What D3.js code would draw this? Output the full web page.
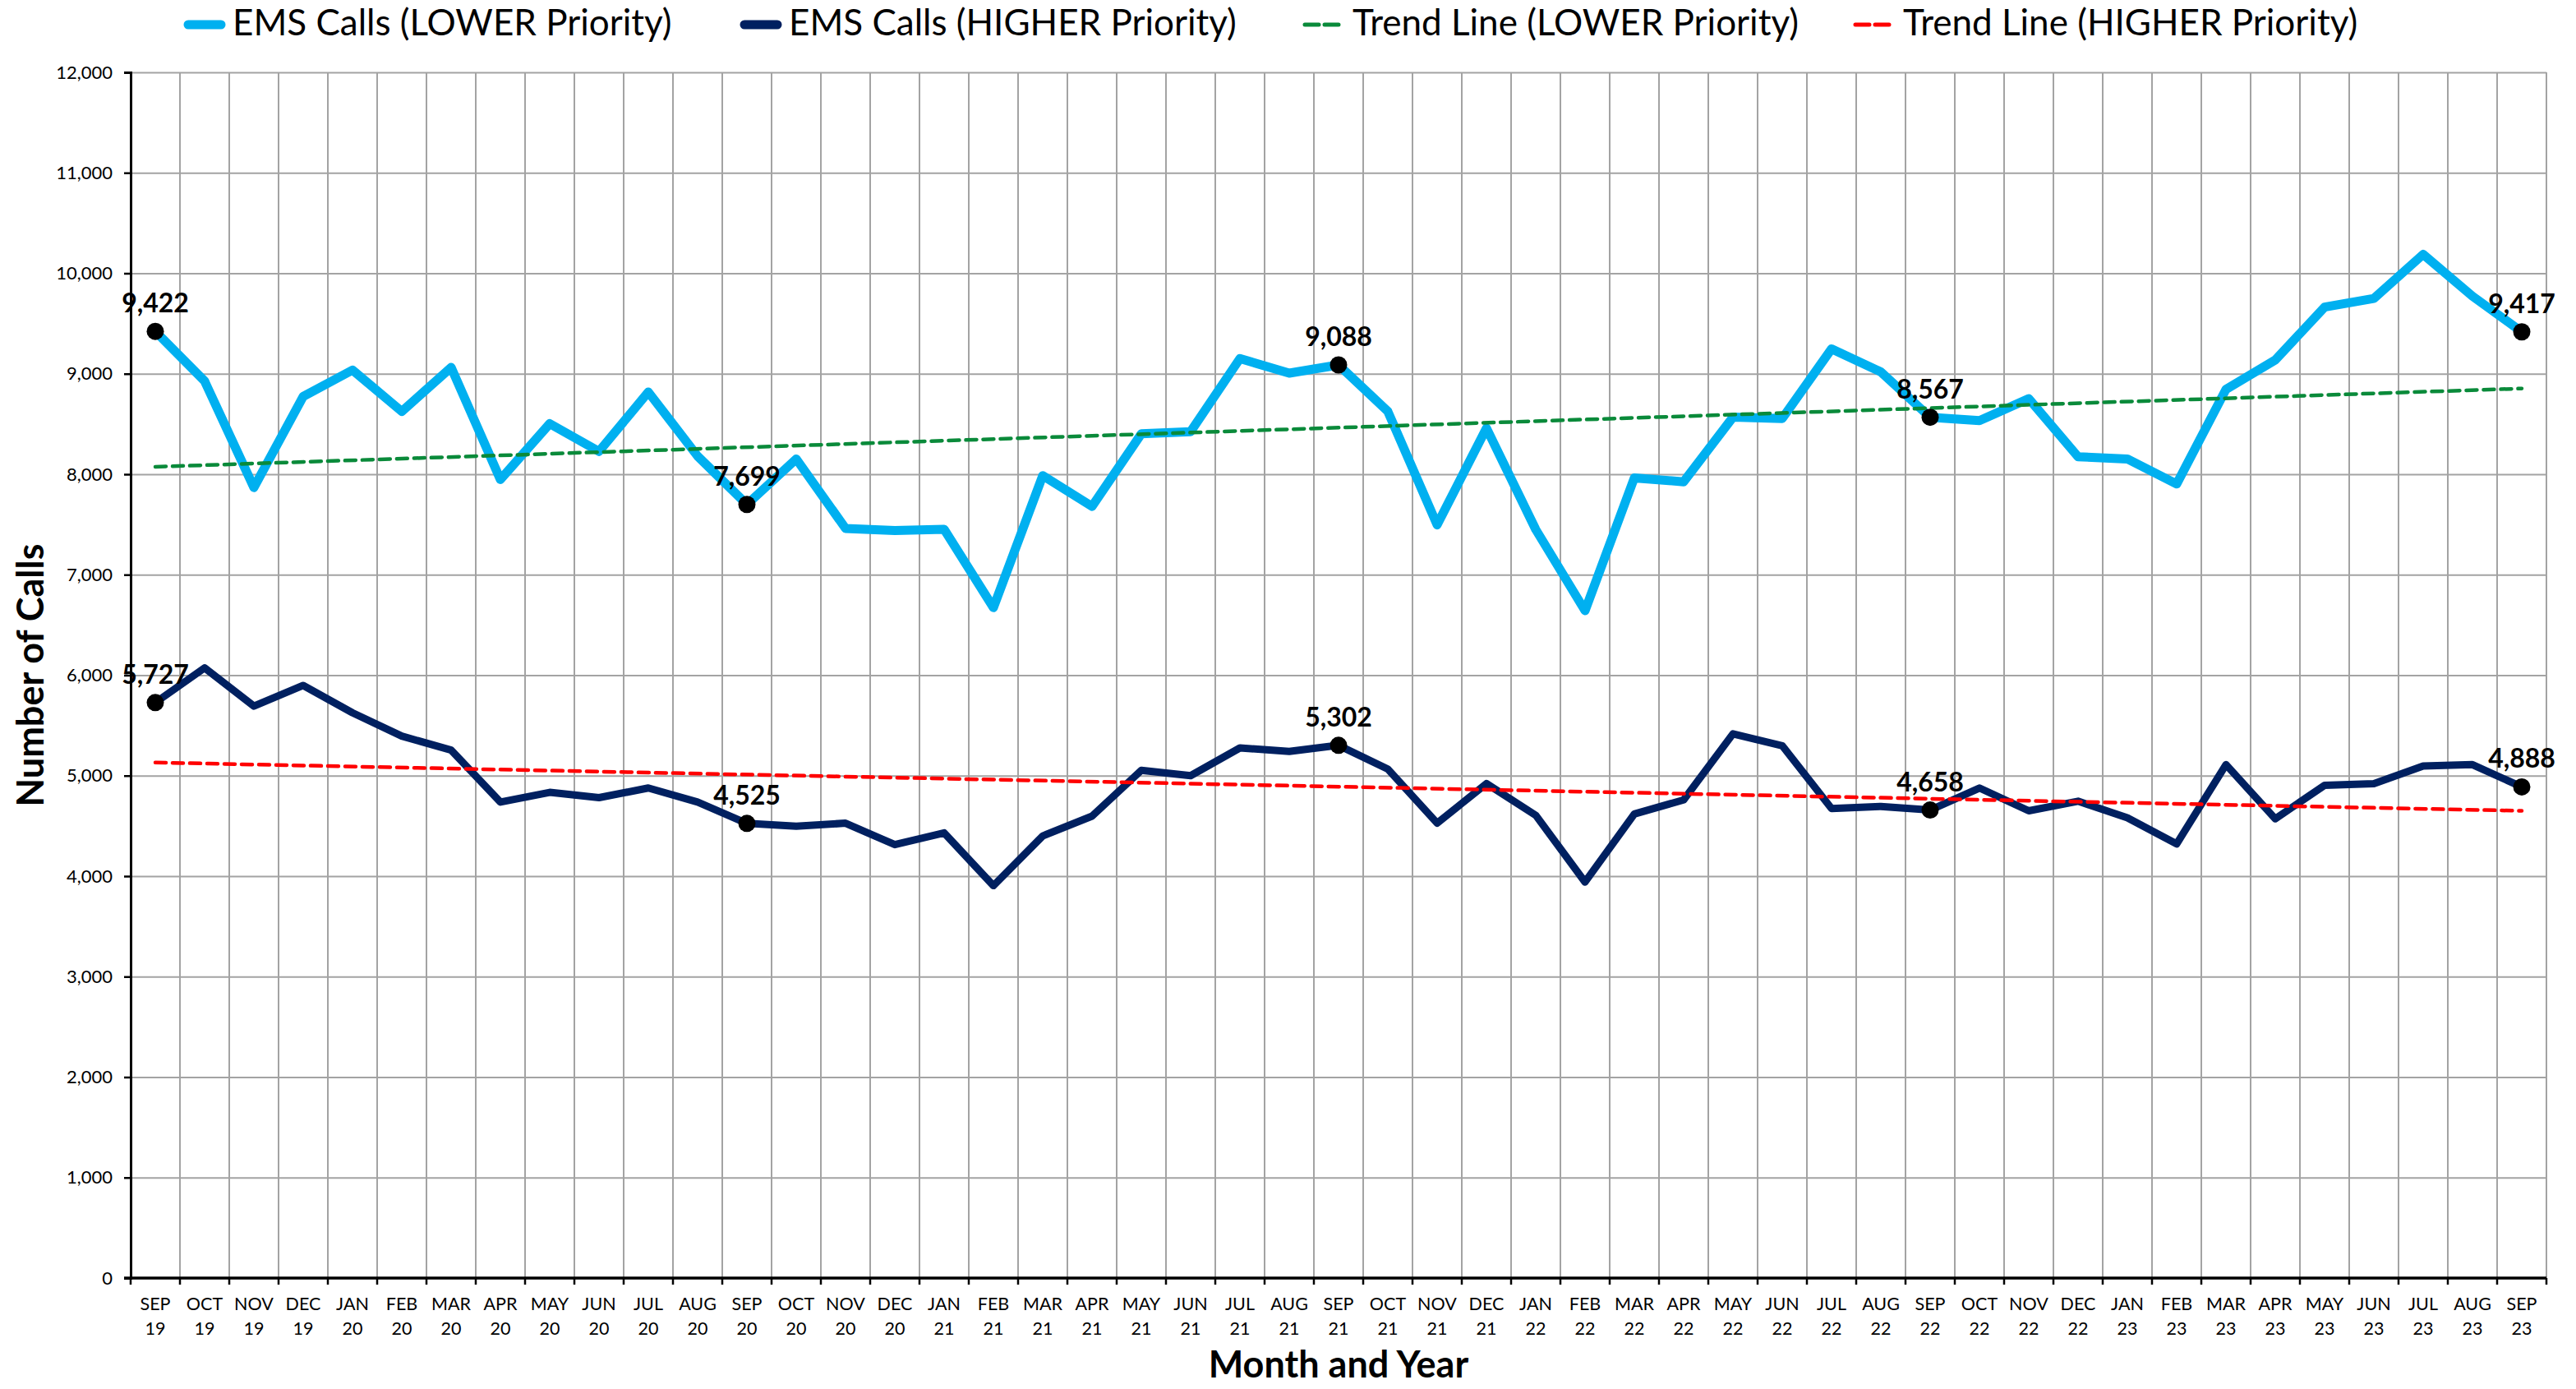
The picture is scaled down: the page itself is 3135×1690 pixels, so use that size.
<!DOCTYPE html>
<html>
<head>
<meta charset="utf-8">
<script src="https://cdn.jsdelivr.net/npm/d3@7/dist/d3.min.js"></script>
<style>
  html, body { margin: 0; padding: 0; background: #ffffff; }
  svg { display: block; }
</style>
</head>
<body>
<div class="line-chart"></div>
<script>
// frame size and plot margins
const FRAME_WIDTH = 3135;
const FRAME_HEIGHT = 1690;
const MARGINS = {left: 159, right: 36, top: 88, bottom: 135};

// month / year tick labels (Sep 2019 - Sep 2023)
const MONTHS = [
  "SEP 19", "OCT 19", "NOV 19", "DEC 19",
  "JAN 20", "FEB 20", "MAR 20", "APR 20", "MAY 20", "JUN 20", "JUL 20", "AUG 20", "SEP 20", "OCT 20", "NOV 20", "DEC 20",
  "JAN 21", "FEB 21", "MAR 21", "APR 21", "MAY 21", "JUN 21", "JUL 21", "AUG 21", "SEP 21", "OCT 21", "NOV 21", "DEC 21",
  "JAN 22", "FEB 22", "MAR 22", "APR 22", "MAY 22", "JUN 22", "JUL 22", "AUG 22", "SEP 22", "OCT 22", "NOV 22", "DEC 22",
  "JAN 23", "FEB 23", "MAR 23", "APR 23", "MAY 23", "JUN 23", "JUL 23", "AUG 23", "SEP 23"
];

// EMS calls, lower priority (light blue line)
const LOWER_PRIORITY = [
  9422, 8927, 7868, 8774, 9037, 8625, 9063, 7947, 8503, 8227, 8818, 8180, 7699,
  8152, 7461, 7439, 7452, 6673, 7986, 7680, 8402, 8424, 9151, 9006, 9088,
  8625, 7496, 8459, 7450, 6642, 7964, 7925, 8568, 8555, 9247, 9019, 8567,
  8533, 8752, 8174, 8152, 7903, 8844, 9137, 9663, 9750, 10188, 9772, 9417
];

// EMS calls, higher priority (navy line)
const HIGHER_PRIORITY = [
  5727, 6073, 5692, 5898, 5626, 5394, 5254, 4737, 4834, 4781, 4877, 4737, 4525,
  4497, 4527, 4313, 4431, 3905, 4400, 4597, 5053, 5000, 5276, 5241, 5302,
  5066, 4527, 4921, 4606, 3941, 4619, 4759, 5416, 5298, 4672, 4694, 4658,
  4877, 4650, 4746, 4580, 4321, 5110, 4571, 4904, 4921, 5096, 5110, 4888
];

// trend lines: value at first and last month
const TREND_LOWER = [8074, 8853];
const TREND_HIGHER = [5131, 4650];

// points that get a marker + value label (every September)
const LABELED = [0, 12, 24, 36, 48];

// y axis ticks
const Y_TICKS = [0, 1000, 2000, 3000, 4000, 5000, 6000, 7000, 8000, 9000, 10000, 11000, 12000];

const COLOR_LOWER = "#00b0f0";
const COLOR_HIGHER = "#002060";
const COLOR_TREND_LOWER = "#0a8a3a";
const COLOR_TREND_HIGHER = "#ff0000";
const FONT = "Lato, Carlito, Calibri, 'Liberation Sans', sans-serif";

const PLOT_LEFT = MARGINS.left;
const PLOT_RIGHT = FRAME_WIDTH - MARGINS.right;
const PLOT_TOP = MARGINS.top;
const PLOT_BOTTOM = FRAME_HEIGHT - MARGINS.bottom;

let FRAME = d3.select(".line-chart")
  .append("svg")
  .attr("width", FRAME_WIDTH)
  .attr("height", FRAME_HEIGHT)
  .style("font-family", FONT);

// scales
const xScale = d3.scaleBand()
  .domain(MONTHS)
  .range([PLOT_LEFT, PLOT_RIGHT])
  .padding(0);

const yScale = d3.scaleLinear()
  .domain([0, 12000])
  .range([PLOT_BOTTOM, PLOT_TOP]);

const xMid = (i) => xScale(MONTHS[i]) + xScale.bandwidth() / 2;

// horizontal gridlines
FRAME.append("g")
  .attr("class", "grid-h")
  .attr("transform", "translate(" + PLOT_LEFT + ",0)")
  .call(d3.axisLeft(yScale).tickValues(Y_TICKS).tickSize(-(PLOT_RIGHT - PLOT_LEFT)).tickFormat(""))
  .call(g => g.select(".domain").remove())
  .call(g => g.selectAll("line").attr("stroke", "#a3a3a3").attr("stroke-width", 2));

// vertical gridlines between the months
let boundaries = MONTHS.slice(1).map(m => xScale(m)).concat([PLOT_RIGHT]);
FRAME.append("g")
  .attr("class", "grid-v")
  .selectAll("line")
  .data(boundaries)
  .enter().append("line")
  .attr("x1", d => d).attr("x2", d => d)
  .attr("y1", PLOT_TOP).attr("y2", PLOT_BOTTOM)
  .attr("stroke", "#a3a3a3")
  .attr("stroke-width", 2);

// y axis
FRAME.append("g")
  .attr("class", "y-axis")
  .attr("transform", "translate(" + PLOT_LEFT + ",0)")
  .call(d3.axisLeft(yScale).tickValues(Y_TICKS).tickSize(8).tickPadding(14).tickFormat(d3.format(",")))
  .call(g => g.select(".domain").attr("stroke", "#000").attr("stroke-width", 3))
  .call(g => g.selectAll("line").attr("stroke", "#000").attr("stroke-width", 2.5))
  .call(g => g.selectAll("text")
    .attr("font-size", "22px")
    .attr("font-family", FONT)
    .attr("fill", "#000"));

// x axis with two-line month labels
let xAxis = FRAME.append("g").attr("class", "x-axis");

xAxis.append("line")
  .attr("x1", PLOT_LEFT - 8).attr("x2", PLOT_RIGHT)
  .attr("y1", PLOT_BOTTOM).attr("y2", PLOT_BOTTOM)
  .attr("stroke", "#000")
  .attr("stroke-width", 3.5);

xAxis.selectAll(".tick-mark")
  .data([PLOT_LEFT].concat(boundaries))
  .enter().append("line")
  .attr("class", "tick-mark")
  .attr("x1", d => d).attr("x2", d => d)
  .attr("y1", PLOT_BOTTOM).attr("y2", PLOT_BOTTOM + 8)
  .attr("stroke", "#000")
  .attr("stroke-width", 2.5);

let monthLabels = xAxis.selectAll(".month-label")
  .data(MONTHS)
  .enter().append("text")
  .attr("class", "month-label")
  .attr("text-anchor", "middle")
  .attr("font-size", "21.5px")
  .attr("fill", "#000");

monthLabels.append("tspan")
  .attr("x", (d, i) => xMid(i))
  .attr("y", PLOT_BOTTOM + 39)
  .text(d => d.split(" ")[0]);

monthLabels.append("tspan")
  .attr("x", (d, i) => xMid(i))
  .attr("y", PLOT_BOTTOM + 69)
  .text(d => d.split(" ")[1]);

// axis titles
FRAME.append("text")
  .attr("x", (PLOT_LEFT + PLOT_RIGHT) / 2)
  .attr("y", 1676)
  .attr("text-anchor", "middle")
  .attr("font-size", "45px")
  .attr("font-weight", "bold")
  .text("Month and Year");

FRAME.append("text")
  .attr("transform", "translate(53," + ((PLOT_TOP + PLOT_BOTTOM) / 2) + ") rotate(-90)")
  .attr("text-anchor", "middle")
  .attr("font-size", "45px")
  .attr("font-weight", "bold")
  .text("Number of Calls");

// series lines
const line = d3.line()
  .x((d, i) => xMid(i))
  .y(d => yScale(d));

FRAME.append("path")
  .datum(LOWER_PRIORITY)
  .attr("d", line)
  .attr("fill", "none")
  .attr("stroke", COLOR_LOWER)
  .attr("stroke-width", 11)
  .attr("stroke-linejoin", "round")
  .attr("stroke-linecap", "round");

FRAME.append("path")
  .datum(HIGHER_PRIORITY)
  .attr("d", line)
  .attr("fill", "none")
  .attr("stroke", COLOR_HIGHER)
  .attr("stroke-width", 9)
  .attr("stroke-linejoin", "round")
  .attr("stroke-linecap", "round");

// trend lines (first month to last month)
const trendLine = d3.line()
  .x((d, i) => xMid(i === 0 ? 0 : MONTHS.length - 1))
  .y(d => yScale(d));

[[TREND_LOWER, COLOR_TREND_LOWER], [TREND_HIGHER, COLOR_TREND_HIGHER]].forEach(function(t) {
  FRAME.append("path")
    .datum(t[0])
    .attr("d", trendLine)
    .attr("fill", "none")
    .attr("stroke", t[1])
    .attr("stroke-width", 4.5)
    .attr("stroke-dasharray", "13,8")
    .attr("stroke-linecap", "round");
});

// markers and value labels
[LOWER_PRIORITY, HIGHER_PRIORITY].forEach(function(series) {
  let pts = LABELED.map(i => ({i: i, v: series[i]}));

  FRAME.append("g").selectAll("circle")
    .data(pts)
    .enter().append("circle")
    .attr("cx", d => xMid(d.i))
    .attr("cy", d => yScale(d.v))
    .attr("r", 10.5)
    .attr("fill", "#000");

  FRAME.append("g").selectAll("text")
    .data(pts)
    .enter().append("text")
    .attr("x", d => xMid(d.i))
    .attr("y", d => yScale(d.v) - 23)
    .attr("text-anchor", "middle")
    .attr("font-size", "32px")
    .attr("font-weight", "bold")
    .attr("fill", "#000")
    .text(d => d3.format(",")(d.v));
});

// legend across the top
const LEGEND = [
  {label: "EMS Calls (LOWER Priority)", color: COLOR_LOWER, dash: null, width: 11, x: 223},
  {label: "EMS Calls (HIGHER Priority)", color: COLOR_HIGHER, dash: null, width: 11, x: 900},
  {label: "Trend Line (LOWER Priority)", color: COLOR_TREND_LOWER, dash: "17,7", width: 5, x: 1586},
  {label: "Trend Line (HIGHER Priority)", color: COLOR_TREND_HIGHER, dash: "17,7", width: 5, x: 2256}
];

let legend = FRAME.append("g").attr("class", "legend");
let items = legend.selectAll("g")
  .data(LEGEND)
  .enter().append("g")
  .attr("transform", d => "translate(" + d.x + ",0)");

items.append("line")
  .attr("x1", d => d.dash ? 2 : 6)
  .attr("x2", d => d.dash ? 48 : 46)
  .attr("y1", 30).attr("y2", 30)
  .attr("stroke", d => d.color)
  .attr("stroke-width", d => d.width)
  .attr("stroke-dasharray", d => d.dash)
  .attr("stroke-linecap", "round");

items.append("text")
  .attr("x", 60)
  .attr("y", 43)
  .attr("font-size", "44px")
  .attr("fill", "#000")
  .text(d => d.label);
</script>
</body>
</html>
